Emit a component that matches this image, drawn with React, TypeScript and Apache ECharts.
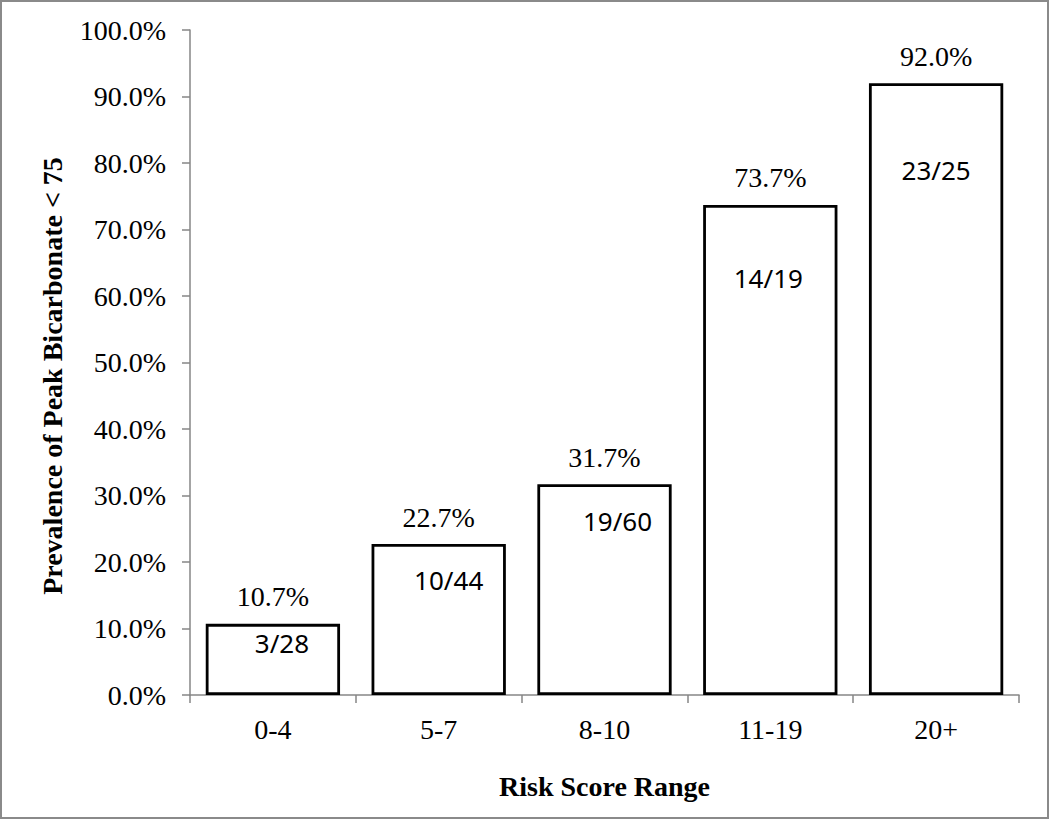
import React, { useEffect, useRef } from "react";
import * as echarts from "echarts";

const categories = ["0-4", "5-7", "8-10", "11-19", "20+"];
const prevalence = [10.7, 22.7, 31.7, 73.7, 92.0];
const numerators = [3, 10, 19, 14, 23];
const denominators = [28, 44, 60, 19, 25];
const yTicks = [0, 10, 20, 30, 40, 50, 60, 70, 80, 90, 100];
const yTitle = "Prevalence of Peak Bicarbonate < 75";
const xTitle = "Risk Score Range";

// layout only: where each fraction label sits relative to its bar's top centre
const fractionOffsets = [
  [9, 19],
  [10, 36],
  [13, 37],
  [-2, 73],
  [0, 87],
];

const SERIF = "'Liberation Serif', 'Times New Roman', serif";
const SANS = "'Noto Sans', 'Open Sans', sans-serif";

export default function App() {
  const ref = useRef<HTMLDivElement>(null);
  useEffect(() => {
    if (!ref.current) return;
    const chart = echarts.init(ref.current, null, { renderer: "svg" });
    const axisGrey = "#868686";
    chart.setOption({
      animation: false,
      backgroundColor: "#ffffff",
      grid: { left: 190, right: 31, top: 30, bottom: 125, containLabel: false },
      xAxis: {
        type: "category",
        data: categories,
        name: xTitle,
        nameLocation: "middle",
        nameGap: 77,
        nameTextStyle: { fontFamily: SERIF, fontWeight: "bold", fontSize: 28, color: "#000" },
        axisLine: { lineStyle: { color: axisGrey, width: 1.5 } },
        axisTick: { show: true, length: 8, lineStyle: { color: axisGrey, width: 1.5 } },
        axisLabel: { fontFamily: SERIF, fontSize: 28, color: "#000", margin: 20 },
      },
      yAxis: {
        type: "value",
        min: yTicks[0],
        max: yTicks[yTicks.length - 1],
        interval: 10,
        splitLine: { show: false },
        axisLine: { show: true, lineStyle: { color: axisGrey, width: 1.5 } },
        axisTick: { show: true, length: 8, lineStyle: { color: axisGrey, width: 1.5 } },
        axisLabel: {
          fontFamily: SERIF,
          fontSize: 28,
          color: "#000",
          margin: 24,
          formatter: (v: number) => v.toFixed(1) + "%",
        },
      },
      series: [
        {
          type: "bar",
          data: prevalence,
          barWidth: "81%",
          itemStyle: { color: "#ffffff", borderColor: "#000000", borderWidth: 2.8 },
          label: {
            show: true,
            position: "top",
            distance: 13,
            fontFamily: SERIF,
            fontSize: 28,
            color: "#000",
            formatter: (p: any) => Number(p.value).toFixed(1) + "%",
          },
          silent: true,
        },
        {
          type: "bar",
          barGap: "-100%",
          barWidth: "81%",
          data: prevalence.map((v, i) => ({
            value: v,
            label: {
              offset: fractionOffsets[i],
              formatter: numerators[i] + "/" + denominators[i],
            },
          })),
          itemStyle: { color: "rgba(0,0,0,0)", borderWidth: 0 },
          label: {
            show: true,
            position: "insideTop",
            distance: 0,
            verticalAlign: "middle",
            fontFamily: SANS,
            fontSize: 26,
            color: "#000",
          },
          silent: true,
          z: 3,
        },
      ],
      graphic: [
        {
          type: "rect",
          shape: { x: 1, y: 1, width: 1047, height: 817 },
          style: { fill: "none", stroke: "#8a8a8a", lineWidth: 2 },
          silent: true,
        },
        {
          type: "text",
          x: 52,
          y: 376,
          rotation: Math.PI / 2,
          style: {
            text: yTitle,
            align: "center",
            verticalAlign: "middle",
            fontFamily: SERIF,
            fontWeight: "bold",
            fontSize: 28,
            fill: "#000",
          },
        },
      ],
    });
    return () => chart.dispose();
  }, []);
  return (
    <div
      ref={ref}
      style={{ position: "absolute", left: 0, top: 0, width: 1050, height: 820 }}
    />
  );
}
